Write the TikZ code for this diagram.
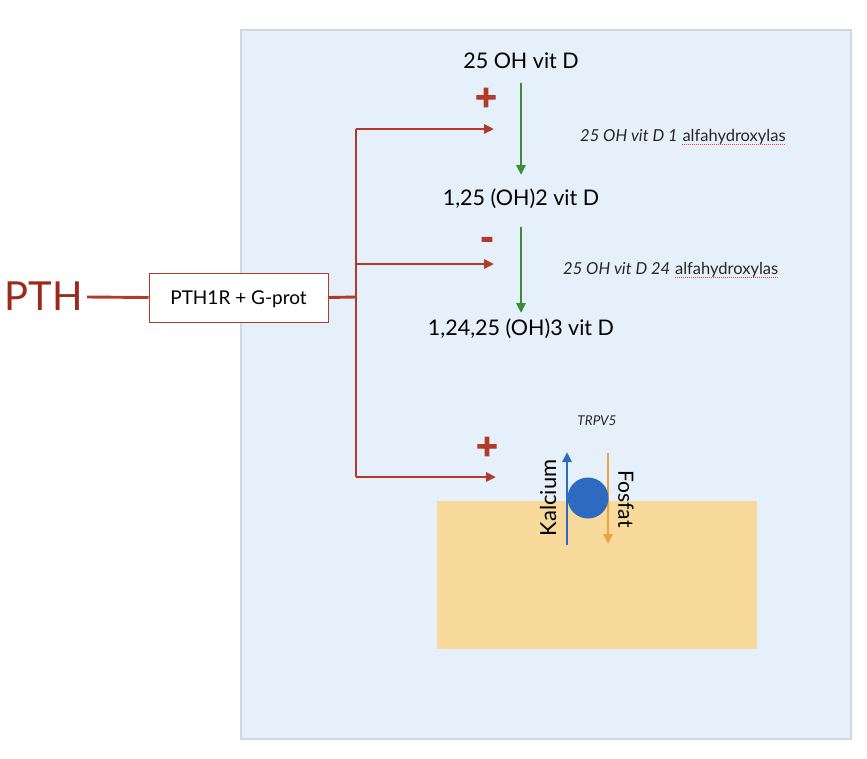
\documentclass[tikz,border=0pt]{standalone}
\usepackage{fontspec}
\setmainfont{Lato}
\usetikzlibrary{arrows.meta}
\definecolor{pthred}{HTML}{B23A28}
\definecolor{pthtext}{HTML}{9A2A1C}
\definecolor{cellfill}{HTML}{E6F0FB}
\definecolor{cellborder}{HTML}{D2D8E0}
\definecolor{greenarr}{HTML}{3C8C3A}
\definecolor{bluearr}{HTML}{2E6AC0}
\definecolor{orangearr}{HTML}{F0A240}
\definecolor{tubule}{HTML}{F6D99B}
\tikzset{
  tip/.style={-{Triangle[length=10pt,width=9pt]}},
  redline/.style={draw=pthred, line width=2.9pt},
  redarrow/.style={redline, tip},
  greenarrow/.style={draw=greenarr, line width=2.7pt, tip},
  sign/.style={text=pthred, font=\fontsize{37}{37}\selectfont\bfseries\addfontfeature{FakeBold=3}, inner sep=0pt},
  chem/.style={font=\fontsize{21.5}{24}\selectfont, text=black, inner sep=0pt, anchor=base},
  enzyme/.style={font=\fontsize{16.5}{18}\selectfont\itshape, text=black!85, inner sep=0pt, anchor=base west},
  enzword/.style={font=\fontsize{16.5}{18}\selectfont, text=black!85, inner sep=0pt, anchor=base west},
  spell/.style={draw=red!80, line width=1pt, dash pattern=on 1pt off 1pt}
}
\begin{document}
\begin{tikzpicture}[x=1pt,y=-1pt]
\useasboundingbox (0,0) rectangle (867,758);
% cell
\draw[draw=cellborder, line width=2pt, fill=cellfill] (241,30) rectangle (851,739);
% tubule lumen
\fill[tubule] (437,501) rectangle (757,649);

% PTH and receptor
\node[text=pthtext, font=\fontsize{40}{40}\selectfont, inner sep=0pt, anchor=base] (pth) at (44,310) {PTH};
\node[draw=pthred, line width=1pt, fill=white, minimum width=179pt, minimum height=49pt, inner sep=0pt] (rec) at (238.5,297.5) {};
\node[font=\fontsize{19}{20}\selectfont, inner sep=0pt, anchor=base] (rectext) at (238.5,304) {PTH1R + G-prot};
\coordinate (pthend) at (87,297);
\draw[redline] (pthend) -- (rec.west);
\coordinate (split) at (356,297);
\coordinate (top) at (356,129);
\coordinate (mid) at (356,264);
\coordinate (bot) at (356,477);
\coordinate (t1) at (494,129);
\coordinate (t2) at (494,264);
\coordinate (t3) at (496,477);
\draw[redline] (rec.east) -- (split);
\draw[redline] (top) -- (bot);
\draw[redarrow] (top) -- (t1);
\draw[redarrow] (mid) -- (t2);
\draw[redarrow] (bot) -- (t3);

\node[sign] (p1) at (486,99) {+};
\node[sign] (m1) at (487,244) {-};
\node[sign] (p2) at (487,448) {+};

% vitamin D chain
\node[chem] (d25) at (521,68.5) {25 OH vit D};
\node[chem] (d125) at (521,205) {1,25 (OH)2 vit D};
\node[chem] (d12425) at (521,335) {1,24,25 (OH)3 vit D};
\coordinate (g1s) at (521,83);
\coordinate (g1e) at (521,175);
\coordinate (g2s) at (521,227);
\coordinate (g2e) at (521,313);
\draw[greenarrow] (g1s) -- (g1e);
\draw[greenarrow] (g2s) -- (g2e);

\node[enzyme] (enz1) at (580,141) {25 OH vit D 1};
\node[enzword] (w1) at ([xshift=4.5pt]enz1.base east) {alfahydroxylas};
\node[enzyme] (enz2) at (563,274.5) {25 OH vit D 24};
\node[enzword] (w2) at ([xshift=4.5pt]enz2.base east) {alfahydroxylas};
\draw[spell] ([yshift=-3pt]w1.base west) -- ([yshift=-3pt]w1.base east);
\draw[spell] ([yshift=-3pt]w2.base west) -- ([yshift=-3pt]w2.base east);

% TRPV5 channel
\node[font=\fontsize{13.5}{14}\selectfont\itshape, text=black!85, inner sep=0pt] (trpv) at (597,421) {TRPV5};
\coordinate (ca1) at (567,545);
\coordinate (ca2) at (567,452);
\coordinate (po1) at (608,453);
\coordinate (po2) at (608,544);
\draw[draw=bluearr, line width=2.8pt, tip] (ca1) -- (ca2);
\draw[draw=orangearr, line width=2.8pt, tip] (po1) -- (po2);
\node[circle, fill=bluearr, minimum size=41pt, inner sep=0pt] (chan) at (588,498) {};
\node[font=\fontsize{22}{24}\selectfont, rotate=90, inner sep=0pt] (kal) at (548,498) {Kalcium};
\node[font=\fontsize{21}{24}\selectfont, rotate=-90, inner sep=0pt] (fos) at (626,499) {Fosfat};
\end{tikzpicture}
\end{document}
